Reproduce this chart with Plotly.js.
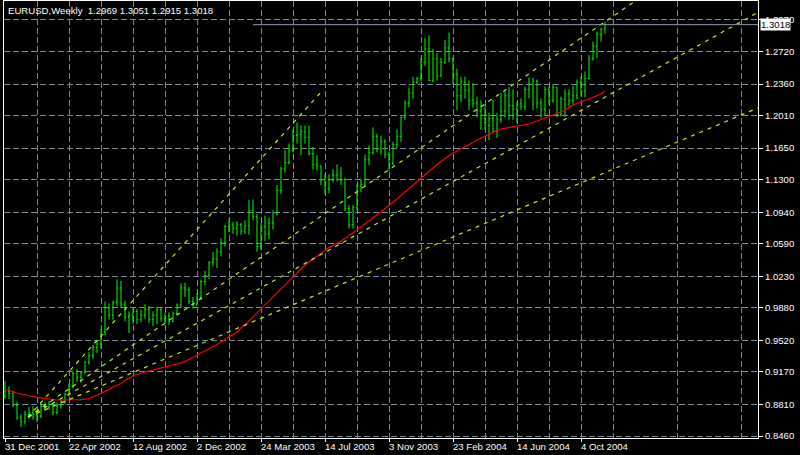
<!DOCTYPE html>
<html>
<head>
<meta charset="utf-8">
<script src="https://cdn.plot.ly/plotly-3.0.1.min.js"></script>
<style>
html,body{margin:0;padding:0;background:#000;}
#chart{width:800px;height:455px;}
</style>
</head>
<body>
<div id="chart"></div>
<script>
// ---- data (weekly EURUSD bars, index 0 = week of 31 Dec 2001) ----
const barOpen = [
0.8895,0.8950,0.8930,0.8800,0.8660,0.8620,0.8700,0.8720,0.8700,0.8680,
0.8790,0.8780,0.8810,0.8720,0.8790,0.8840,0.8920,0.9010,0.9150,0.9110,
0.9160,0.9280,0.9350,0.9440,0.9480,0.9610,0.9880,0.9800,0.9940,1.0100,
0.9920,0.9780,0.9800,0.9840,0.9750,0.9800,0.9860,0.9750,0.9800,0.9860,
0.9760,0.9790,0.9730,0.9820,0.9910,1.0100,1.0080,0.9950,0.9920,1.0000,
1.0170,1.0240,1.0380,1.0420,1.0500,1.0600,1.0780,1.0800,1.0760,1.0800,
1.0730,1.0790,1.0960,1.0890,1.0560,1.0780,1.0700,1.0820,1.0930,1.1180,
1.1420,1.1490,1.1620,1.1790,1.1800,1.1830,1.1770,1.1590,1.1470,1.1450,
1.1300,1.1200,1.1300,1.1350,1.1300,1.1300,1.0980,1.0800,1.0990,1.1230,
1.1250,1.1520,1.1600,1.1780,1.1640,1.1720,1.1580,1.1480,1.1690,1.1780,
1.1990,1.2150,1.2260,1.2380,1.2420,1.2600,1.2750,1.2400,1.2640,1.2450,
1.2600,1.2760,1.2640,1.2470,1.2230,1.2380,1.2290,1.2180,1.2150,1.2060,
1.1980,1.1900,1.1980,1.1840,1.1970,1.2060,1.2230,1.2120,1.2080,1.2140,
1.2110,1.2300,1.2360,1.2390,1.2150,1.2080,1.2300,1.2180,1.2320,1.2020,
1.2190,1.2250,1.2180,1.2230,1.2380,1.2280,1.2420,1.2640,1.2780,1.2910,
1.2969];
const barHigh = [
0.9070,0.9010,0.8960,0.8840,0.8700,0.8740,0.8780,0.8790,0.8740,0.8830,
0.8840,0.8850,0.8830,0.8830,0.8860,0.8940,0.9040,0.9170,0.9200,0.9180,
0.9290,0.9390,0.9470,0.9520,0.9640,0.9950,0.9930,0.9960,1.0195,1.0180,
0.9960,0.9840,0.9880,0.9870,0.9860,0.9920,0.9900,0.9840,0.9890,0.9890,
0.9820,0.9830,0.9840,0.9930,1.0150,1.0160,1.0110,1.0000,1.0040,1.0190,
1.0290,1.0400,1.0500,1.0540,1.0650,1.0800,1.0870,1.0830,1.0840,1.0820,
1.0850,1.1075,1.1080,1.0920,1.0820,1.0900,1.0880,1.0960,1.1240,1.1440,
1.1630,1.1700,1.1860,1.1935,1.1900,1.1900,1.1900,1.1660,1.1570,1.1460,
1.1360,1.1360,1.1420,1.1470,1.1440,1.1320,1.1020,1.1020,1.1250,1.1300,
1.1580,1.1680,1.1880,1.1810,1.1790,1.1750,1.1610,1.1720,1.1860,1.2000,
1.2180,1.2320,1.2440,1.2440,1.2650,1.2870,1.2900,1.2750,1.2700,1.2650,
1.2850,1.2930,1.2650,1.2530,1.2440,1.2440,1.2400,1.2370,1.2220,1.2180,
1.2130,1.2040,1.2180,1.2040,1.2260,1.2280,1.2330,1.2300,1.2160,1.2200,
1.2330,1.2430,1.2430,1.2410,1.2200,1.2330,1.2330,1.2360,1.2330,1.2220,
1.2300,1.2300,1.2340,1.2410,1.2440,1.2500,1.2680,1.2830,1.2940,1.2985,
1.3051];
const barLow = [
0.8875,0.8870,0.8780,0.8640,0.8560,0.8590,0.8650,0.8640,0.8610,0.8660,
0.8740,0.8750,0.8690,0.8700,0.8760,0.8810,0.8900,0.8990,0.9060,0.9050,
0.9150,0.9250,0.9310,0.9380,0.9430,0.9580,0.9750,0.9740,0.9900,0.9880,
0.9730,0.9600,0.9700,0.9700,0.9720,0.9760,0.9710,0.9680,0.9700,0.9730,
0.9700,0.9690,0.9720,0.9800,0.9880,1.0000,0.9920,0.9870,0.9900,0.9970,
1.0130,1.0200,1.0340,1.0320,1.0450,1.0560,1.0720,1.0700,1.0680,1.0690,
1.0700,1.0690,1.0850,1.0500,1.0520,1.0620,1.0640,1.0750,1.0900,1.1140,
1.1380,1.1470,1.1600,1.1700,1.1570,1.1700,1.1570,1.1410,1.1400,1.1240,
1.1140,1.1150,1.1270,1.1280,1.1240,1.0950,1.0760,1.0760,1.0960,1.1160,
1.1220,1.1460,1.1580,1.1600,1.1580,1.1540,1.1400,1.1460,1.1650,1.1720,
1.1960,1.2100,1.2200,1.2360,1.2390,1.2560,1.2390,1.2380,1.2400,1.2440,
1.2580,1.2600,1.2360,1.2070,1.2160,1.2200,1.2070,1.2100,1.1990,1.1850,
1.1850,1.1740,1.1820,1.1760,1.1930,1.1990,1.1960,1.1960,1.1930,1.2070,
1.2070,1.2200,1.2070,1.2090,1.1980,1.2010,1.2130,1.2150,1.1990,1.2000,
1.2000,1.2110,1.2130,1.2190,1.2220,1.2210,1.2410,1.2620,1.2650,1.2830,
1.2915];
const barClose = [
0.8950,0.8930,0.8800,0.8660,0.8620,0.8700,0.8720,0.8700,0.8680,0.8790,
0.8780,0.8810,0.8720,0.8790,0.8840,0.8920,0.9010,0.9150,0.9110,0.9160,
0.9280,0.9350,0.9440,0.9480,0.9610,0.9880,0.9800,0.9940,1.0100,0.9920,
0.9780,0.9800,0.9840,0.9750,0.9800,0.9860,0.9750,0.9800,0.9860,0.9760,
0.9790,0.9730,0.9820,0.9910,1.0100,1.0080,0.9950,0.9920,1.0000,1.0170,
1.0240,1.0380,1.0420,1.0500,1.0600,1.0780,1.0800,1.0760,1.0800,1.0730,
1.0790,1.0960,1.0890,1.0560,1.0780,1.0700,1.0820,1.0930,1.1180,1.1420,
1.1490,1.1620,1.1790,1.1800,1.1830,1.1770,1.1590,1.1470,1.1450,1.1300,
1.1200,1.1300,1.1350,1.1300,1.1300,1.0980,1.0800,1.0990,1.1230,1.1250,
1.1520,1.1600,1.1780,1.1640,1.1720,1.1580,1.1480,1.1690,1.1780,1.1990,
1.2150,1.2260,1.2380,1.2420,1.2600,1.2750,1.2400,1.2640,1.2450,1.2600,
1.2760,1.2640,1.2470,1.2230,1.2380,1.2290,1.2180,1.2150,1.2060,1.1980,
1.1900,1.1980,1.1840,1.1970,1.2060,1.2230,1.2120,1.2080,1.2140,1.2110,
1.2300,1.2360,1.2390,1.2150,1.2080,1.2300,1.2180,1.2320,1.2020,1.2190,
1.2250,1.2180,1.2230,1.2380,1.2280,1.2420,1.2640,1.2780,1.2910,1.2969,
1.3018];
// moving average (red line), one value per bar
const maValues = [
0.8981,0.8964,0.8948,0.8936,0.8925,0.8918,0.8909,0.8898,0.8888,0.8881,
0.8873,0.8867,0.8859,0.8859,0.8859,0.8859,0.8859,0.8859,0.8859,0.8863,
0.8868,0.8875,0.8892,0.8911,0.8931,0.8953,0.8975,0.9003,0.9025,0.9042,
0.9075,0.9103,0.9125,0.9141,0.9158,0.9169,0.9180,0.9191,0.9202,0.9210,
0.9219,0.9230,0.9241,0.9258,0.9271,0.9285,0.9308,0.9330,0.9352,0.9374,
0.9398,0.9424,0.9452,0.9474,0.9502,0.9529,0.9557,0.9585,0.9612,0.9657,
0.9690,0.9734,0.9779,0.9823,0.9867,0.9912,0.9956,1.0000,1.0044,1.0089,
1.0133,1.0177,1.0222,1.0266,1.0321,1.0355,1.0388,1.0421,1.0454,1.0488,
1.0521,1.0549,1.0571,1.0593,1.0621,1.0648,1.0682,1.0709,1.0742,1.0776,
1.0809,1.0842,1.0875,1.0909,1.0942,1.0975,1.1008,1.1047,1.1086,1.1125,
1.1164,1.1202,1.1241,1.1280,1.1313,1.1352,1.1391,1.1429,1.1468,1.1501,
1.1535,1.1568,1.1596,1.1618,1.1640,1.1662,1.1684,1.1712,1.1740,1.1762,
1.1784,1.1806,1.1828,1.1845,1.1862,1.1870,1.1878,1.1884,1.1889,1.1895,
1.1906,1.1917,1.1934,1.1950,1.1967,1.1983,1.2000,1.2017,1.2033,1.2050,
1.2072,1.2100,1.2127,1.2144,1.2161,1.2177,1.2194,1.2211,1.2227,1.2249,
1.2283];
// Fibonacci fan: anchor points (bar index, price) and levels
const fanPoint1 = [5.75, 0.8671];
const fanPoint2 = [79.5, 1.2294];
const fanLevels = [0.618, 0.5, 0.382];
// axes
const xTickIdx = [0, 16, 32, 48, 64, 80, 96, 112, 128, 144];
const xTickLabels = ["31 Dec 2001","22 Apr 2002","12 Aug 2002","2 Dec 2002","24 Mar 2003","14 Jul 2003","3 Nov 2003","23 Feb 2004","14 Jun 2004","4 Oct 2004"];
const xGridMinor = [8,24,40,56,72,88,104,120,136,152,168,184];
const yTickVals = [0.8460,0.8810,0.9170,0.9520,0.9880,1.0230,1.0590,1.0940,1.1300,1.1650,1.2010,1.2360,1.2720,1.3070];
const yTickLabels = ["0.8460","0.8810","0.9170","0.9520","0.9880","1.0230","1.0590","1.0940","1.1300","1.1650","1.2010","1.2360","1.2720","1.3070"];
const headerText = "EURUSD,Weekly  1.2969 1.3051 1.2915 1.3018";
const lastPriceLabel = "1.3018";

// ---- build ----
const idx = barOpen.map((_, i) => i);
const FONT = "Liberation Sans, Arial, sans-serif";
const FS = 9.6;
const GRID = "#778899";
const xMax = 188.25, xMin = -0.25;
const yMin = 0.84378, yMax = 1.32798;

const traces = [];
traces.push({
  type: "ohlc", x: idx, open: barOpen, high: barHigh, low: barLow, close: barClose,
  increasing: {line: {color: "#00ff00", width: 1}},
  decreasing: {line: {color: "#00ff00", width: 1}},
  tickwidth: 0.3, hoverinfo: "skip"
});
traces.push({
  type: "scatter", mode: "lines", x: idx, y: maValues,
  line: {color: "#ff0000", width: 1.2}, hoverinfo: "skip"
});
const slope = (fanPoint2[1] - fanPoint1[1]) / (fanPoint2[0] - fanPoint1[0]);
const FAN = "#b4f020";
traces.push({
  type: "scatter", mode: "lines", x: [fanPoint1[0], fanPoint2[0]], y: [fanPoint1[1], fanPoint2[1]],
  line: {color: FAN, width: 1.2, dash: "4px,5px"}, hoverinfo: "skip"
});
fanLevels.forEach(lv => {
  traces.push({
    type: "scatter", mode: "lines",
    x: [fanPoint1[0], xMax],
    y: [fanPoint1[1], fanPoint1[1] + slope * lv * (xMax - fanPoint1[0])],
    line: {color: FAN, width: 1.2, dash: "4px,5px"}, hoverinfo: "skip"
  });
});

const annotations = xTickIdx.map((v, i) => ({
  x: v, xref: "x", y: 0, yref: "paper", yanchor: "top", xanchor: "left",
  text: xTickLabels[i], showarrow: false, xshift: -2, yshift: -1,
  font: {family: FONT, size: FS, color: "#ffffff"}
}));
annotations.push({
  x: 0, xref: "paper", y: 1, yref: "paper", xanchor: "left", yanchor: "top",
  text: headerText, showarrow: false, xshift: 2, yshift: -2,
  font: {family: FONT, size: FS, color: "#ffffff"}
});
annotations.push({
  x: 1, xref: "paper", y: barClose[barClose.length - 1], yref: "y",
  xanchor: "left", yanchor: "middle", text: lastPriceLabel, showarrow: false,
  xshift: 2, bgcolor: "#ffffff", borderpad: 0,
  font: {family: FONT, size: FS, color: "#000000"}
});

const layout = {
  width: 800, height: 455,
  paper_bgcolor: "#000000", plot_bgcolor: "#000000",
  margin: {l: 4, r: 42, t: 1, b: 17, pad: 0},
  showlegend: false,
  xaxis: {
    range: [xMin, xMax], tickmode: "array", tickvals: xTickIdx,
    ticktext: xTickIdx.map(() => ""), ticks: "outside", ticklen: 3, tickcolor: "#ffffff",
    showgrid: true, gridcolor: GRID, griddash: "6px,3px", gridwidth: 1,
    minor: {tickmode: "array", tickvals: xGridMinor, showgrid: true, gridcolor: GRID, griddash: "6px,3px", ticks: ""},
    showline: true, linecolor: "#ffffff", linewidth: 1, mirror: true,
    zeroline: false, fixedrange: true, rangeslider: {visible: false}
  },
  yaxis: {
    side: "right", range: [yMin, yMax], tickmode: "array", tickvals: yTickVals, ticktext: yTickLabels,
    ticks: "outside", ticklen: 4, tickcolor: "#ffffff",
    tickfont: {family: FONT, size: FS, color: "#ffffff"},
    showgrid: true, gridcolor: GRID, griddash: "6px,3px", gridwidth: 1,
    showline: true, linecolor: "#ffffff", linewidth: 1, mirror: true,
    zeroline: false, fixedrange: true
  },
  shapes: [{
    type: "line", xref: "x", x0: 62, x1: xMax, yref: "y",
    y0: barClose[barClose.length - 1], y1: barClose[barClose.length - 1],
    line: {color: "#8899aa", width: 1}
  }],
  annotations: annotations
};
Plotly.newPlot("chart", traces, layout, {staticPlot: true, displayModeBar: false});
</script>
</body>
</html>
